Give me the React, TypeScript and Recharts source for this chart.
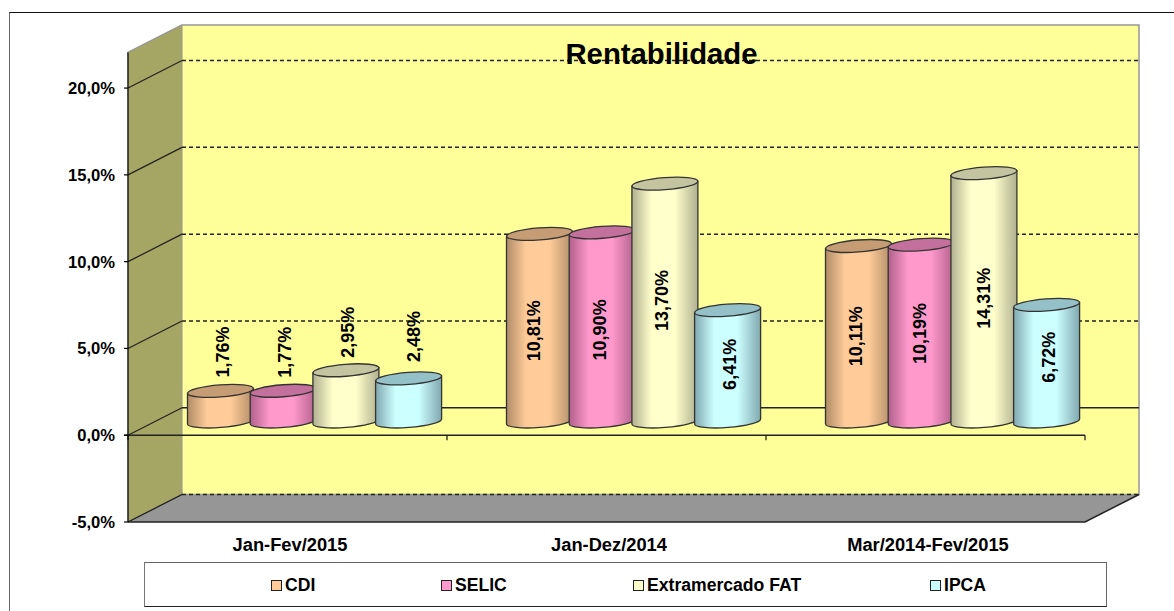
import React from 'react';
import { BarChart, Bar, XAxis, YAxis, ReferenceArea, ReferenceLine, LabelList } from 'recharts';

const categories = ['Jan-Fev/2015', 'Jan-Dez/2014', 'Mar/2014-Fev/2015'];
const cdi = [1.76, 10.81, 10.11];
const selic = [1.77, 10.9, 10.19];
const fat = [2.95, 13.7, 14.31];
const ipca = [2.48, 6.41, 6.72];
const yTicks = [-5, 0, 5, 10, 15, 20];
const gridValues = [-5, 5, 10, 15, 20];

const seriesList = [
  { key: 'cdi', name: 'CDI', light: '#FFCC99', edge: '#B08C68', top: '#C69C74' },
  { key: 'selic', name: 'SELIC', light: '#FF99CC', edge: '#B0608C', top: '#C4709C' },
  { key: 'fat', name: 'Extramercado FAT', light: '#FFFFCC', edge: '#B0B090', top: '#C4C4A0' },
  { key: 'ipca', name: 'IPCA', light: '#CCFFFF', edge: '#80A8B0', top: '#94C0C8' },
];

// labels were moved by hand in the original, [dx, dy] per category
const labelNudge: Record<string, number[][]> = {
  cdi: [[3, 1], [-5, 3], [-2, 2.5]],
  selic: [[2, 1.5], [-2, 3], [-1, 0.5]],
  fat: [[2.5, 2], [-2.5, -2], [0, 1]],
  ipca: [[5, -2], [2, -1.5], [2, -6]],
};

const chartData = categories.map((name, i) => ({
  name,
  cdi: cdi[i],
  selic: selic[i],
  fat: fat[i],
  ipca: ipca[i],
}));

const FONT = '"Liberation Sans", Arial, sans-serif';
// oblique 3D offset of the back wall, bars stand halfway in the depth
const DX = 54;
const DY = 27.5;

const fmtAxis = (v: number) => v.toFixed(1).replace('.', ',') + '%';
const fmtLabel = (v: number) => v.toFixed(2).replace('.', ',') + '%';

// side wall, back wall and floor
const Walls = ({ x, y, width, height }: any) => {
  const r = x + width;
  const b = y + height;
  return (
    <g>
      <polygon points={`${x},${y} ${x + DX},${y - DY} ${r + DX},${y - DY} ${r + DX},${b - DY} ${x + DX},${b - DY}`} fill="#FFFF99" stroke="#969696" strokeWidth={1.5} />
      <polygon points={`${x},${y} ${x + DX},${y - DY} ${x + DX},${b - DY} ${x},${b}`} fill="#A6A664" stroke="#969696" strokeWidth={1} />
      <polygon points={`${x},${b} ${x + DX},${b - DY} ${r + DX},${b - DY} ${r},${b}`} fill="#969696" />
      <polyline points={`${x},${b} ${r},${b} ${r + DX},${b - DY}`} fill="none" stroke="#222" strokeWidth={1.5} />
      <line x1={x} y1={b} x2={x + DX} y2={b - DY} stroke="#555" strokeWidth={1} />
    </g>
  );
};

const GridShape = ({ x1, y1, x2 }: any) => (
  <g>
    <line x1={x1} y1={y1} x2={x1 + DX} y2={y1 - DY} stroke="#222" strokeWidth={1.2} />
    <line x1={x1 + DX} y1={y1 - DY} x2={x2 + DX} y2={y1 - DY} stroke="#222" strokeWidth={1.5} strokeDasharray="4 3" />
  </g>
);

// zero level: solid on the back wall and on the front, with category ticks
const ZeroShape = ({ x1, y1, x2 }: any) => {
  const step = (x2 - x1) / categories.length;
  return (
    <g>
      <line x1={x1} y1={y1} x2={x1 + DX} y2={y1 - DY} stroke="#222" strokeWidth={1.2} />
      <line x1={x1 + DX} y1={y1 - DY} x2={x2 + DX} y2={y1 - DY} stroke="#222" strokeWidth={1.5} />
      <line x1={x1 - 4} y1={y1} x2={x2} y2={y1} stroke="#222" strokeWidth={1.5} />
      {[0, 1, 2, 3].map((i) => (
        <line key={i} x1={x1 + step * i} y1={y1} x2={x1 + step * i} y2={y1 + 5} stroke="#111" strokeWidth={1.2} />
      ))}
    </g>
  );
};

const Cylinder = ({ x, y, width, height, index, seriesKey, light, edge, top }: any) => {
  const rx = width / 2;
  const ry = 6;
  const tilt = 2.5; // ellipses lean up to the right
  const id = `cyl-${seriesKey}-${index}`;
  const left = x + DX / 2;
  const right = left + width;
  const cy = y - DY / 2;
  const by = y + height - DY / 2;
  const rot = (Math.atan2(-tilt * 2, width) * 180) / Math.PI;
  return (
    <g>
      <defs>
        <linearGradient id={id} x1="0" x2="1" y1="0" y2="0">
          <stop offset="0" stopColor={edge} />
          <stop offset="0.3" stopColor={light} />
          <stop offset="0.65" stopColor={light} />
          <stop offset="1" stopColor={edge} />
        </linearGradient>
      </defs>
      <path
        d={`M${left},${cy + tilt} L${left},${by + tilt} A${rx},${ry} ${rot} 0 0 ${right},${by - tilt} L${right},${cy - tilt} Z`}
        fill={`url(#${id})`}
        stroke="#333"
        strokeWidth={1.3}
      />
      <ellipse cx={left + rx} cy={cy} rx={rx} ry={ry} transform={`rotate(${rot} ${left + rx} ${cy})`} fill={top} stroke="#333" strokeWidth={1.3} />
    </g>
  );
};

// small bars carry the label above them, tall ones in the middle
const BarLabel = ({ x, y, width, height, value, nudge }: any) => {
  const topY = y - DY / 2;
  const cx = x + DX / 2 + width / 2 + nudge[0];
  const cy = (value < 5 ? topY - 40 : topY + height / 2) + nudge[1];
  return (
    <text
      x={cx}
      y={cy}
      transform={`rotate(-90 ${cx} ${cy})`}
      textAnchor="middle"
      dominantBaseline="central"
      fontFamily={FONT}
      fontWeight="bold"
      fontSize={18}
      fill="#000"
    >
      {fmtLabel(value)}
    </text>
  );
};

const legendSlots = [271, 441, 633, 930];

const LegendBox = () => (
  <div style={{ position: 'absolute', left: 144, top: 562, width: 963, height: 45, boxSizing: 'border-box', borderTop: '1px solid #666', borderLeft: '1.5px solid #777', borderRight: '1px solid #666', borderBottom: '1.5px solid #222', background: '#fff' }}>
    {seriesList.map((s, i) => (
      <div key={s.key} style={{ position: 'absolute', left: legendSlots[i] - 145, top: 1, height: 43, display: 'flex', alignItems: 'center', fontFamily: FONT, fontWeight: 'bold', fontSize: 17.6, color: '#000', whiteSpace: 'nowrap' }}>
        <span style={{ display: 'inline-block', width: 9, height: 9, background: s.light, border: '1.5px solid #222', marginRight: 3 }} />
        {s.name}
      </div>
    ))}
  </div>
);

export default function App() {
  return (
    <div style={{ position: 'absolute', left: 0, top: 0, width: 1174, height: 611, background: '#fff', overflow: 'hidden' }}>
      <div style={{ position: 'absolute', left: 9, top: 12, width: 1200, height: 620, boxSizing: 'border-box', borderTop: '1.5px solid #111', borderLeft: '1.5px solid #666' }} />
      <BarChart
        width={1174}
        height={611}
        data={chartData}
        margin={{ top: 52.5, right: 89, bottom: 59, left: 68 }}
        barCategoryGap={32.5}
        barGap={-3.3}
        style={{ position: 'absolute', left: 0, top: 0 }}
      >
        <ReferenceArea y1={-5} y2={22.05} shape={<Walls />} ifOverflow="visible" zIndex={-10} />
        {gridValues.map((v) => (
          <ReferenceLine key={v} y={v} shape={<GridShape />} ifOverflow="visible" zIndex={-5} />
        ))}
        <ReferenceLine y={0} shape={<ZeroShape />} ifOverflow="visible" zIndex={-5} />
        <XAxis dataKey="name" axisLine={false} tickLine={false} height={30} interval={0} tickMargin={0} dy={10} dx={2.5} tick={{ fontFamily: FONT, fontWeight: 'bold', fontSize: 18.3, fill: '#000' }} />
        <YAxis
          width={60}
          domain={[-5, 22.05]}
          ticks={yTicks}
          allowDataOverflow
          tickFormatter={fmtAxis}
          tickSize={4}
          tickMargin={9}
          axisLine={{ stroke: '#000', strokeWidth: 1.2 }}
          tickLine={{ stroke: '#000', strokeWidth: 1.2 }}
          tick={{ fontFamily: FONT, fontWeight: 'bold', fontSize: 16.6, fill: '#000' }}
        />
        {seriesList.map((s) => (
          <Bar
            key={s.key}
            dataKey={s.key}
            name={s.name}
            isAnimationActive={false}
            shape={(props: any) => <Cylinder {...props} seriesKey={s.key} light={s.light} edge={s.edge} top={s.top} />}
          >
            <LabelList
              dataKey={s.key}
              content={(p: any) => <BarLabel {...p} nudge={labelNudge[s.key][p.index]} />}
            />
          </Bar>
        ))}
      </BarChart>
      <LegendBox />
      <div style={{ position: 'absolute', left: 461, width: 401, top: 37, textAlign: 'center', fontFamily: FONT, fontWeight: 'bold', fontSize: 29.3, lineHeight: '34px', color: '#000' }}>
        Rentabilidade
      </div>
    </div>
  );
}
